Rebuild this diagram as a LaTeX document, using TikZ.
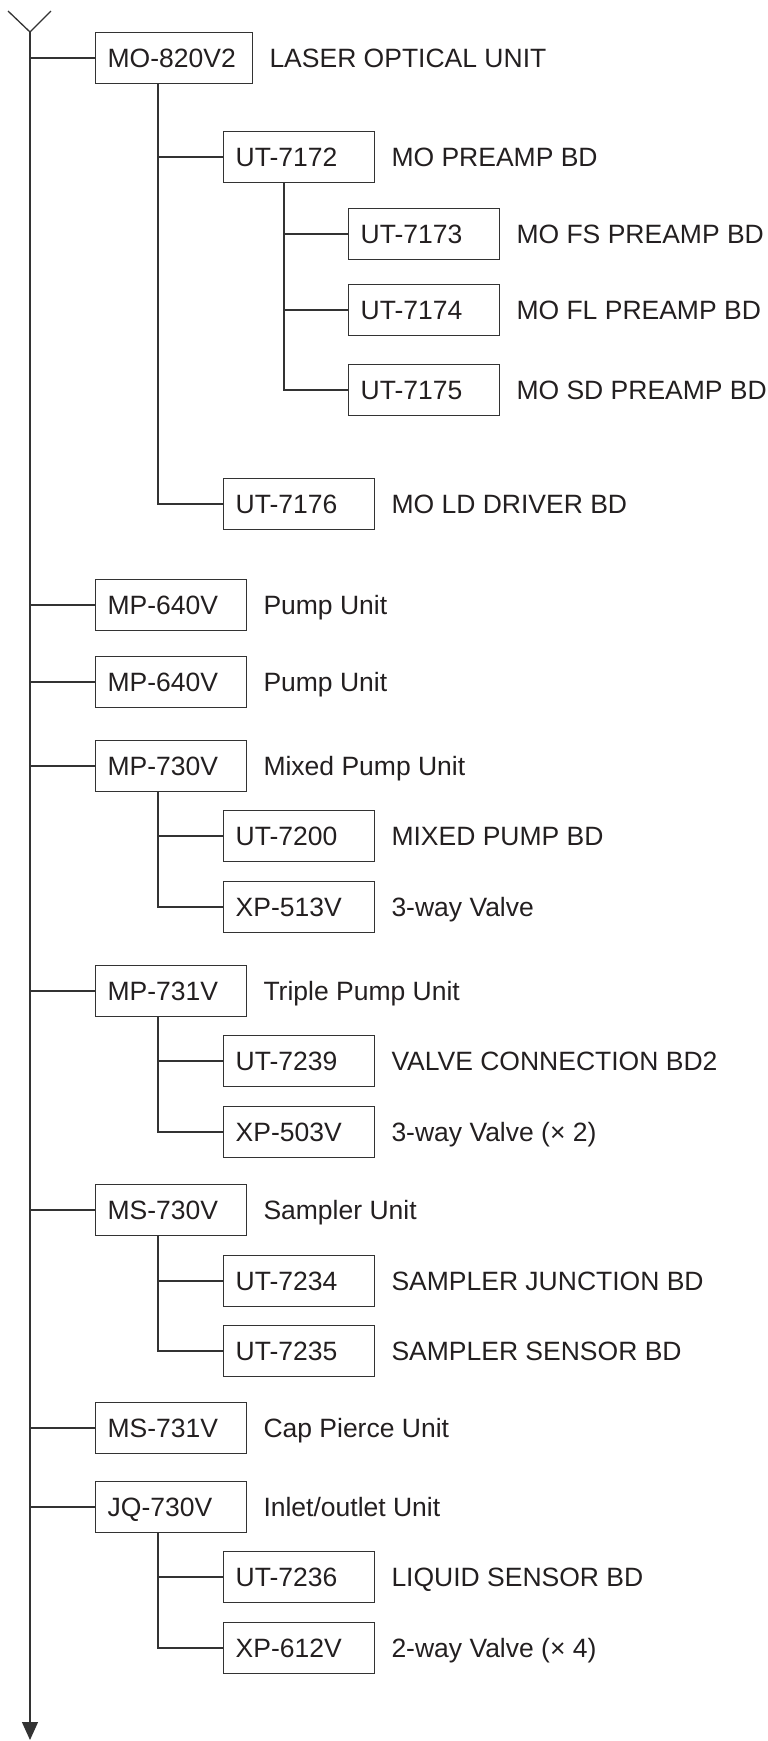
\documentclass[tikz,border=0pt]{standalone}
\usepackage{fontspec}
\setmainfont{Liberation Sans}
\usetikzlibrary{arrows.meta,positioning}
\definecolor{linec}{HTML}{333333}
\definecolor{textc}{HTML}{231F20}
\begin{document}
\begin{tikzpicture}[x=1pt,y=-1pt,
  every node/.style={font=\fontsize{26.5pt}{30pt}\selectfont, text=textc},
  unitbox/.style={draw=linec, line width=1.3pt, minimum height=51.5pt, text height=19pt, text depth=0pt, inner xsep=12pt, inner ysep=0pt, text width=127pt, align=left, anchor=west},
  lbl/.style={inner sep=0pt, text height=19pt, text depth=0pt, anchor=west},
  conn/.style={draw=linec, line width=1.3pt},
  node distance=16pt
]
\useasboundingbox (0,0) rectangle (768,1741);

\coordinate (vl) at (8,11);
\coordinate (vr) at (51,11);
\coordinate (vtx) at (30,32);
\coordinate (bot) at (30,1740);
\coordinate (trunk) at (30,0);

% level 1 boxes
\node[unitbox, text width=133pt] (b1) at (95,58) {MO-820V2};
\node[unitbox] (b2) at (95,605) {MP-640V};
\node[unitbox] (b3) at (95,682) {MP-640V};
\node[unitbox] (b4) at (95,766) {MP-730V};
\node[unitbox] (b5) at (95,991) {MP-731V};
\node[unitbox] (b6) at (95,1210) {MS-730V};
\node[unitbox] (b7) at (95,1428) {MS-731V};
\node[unitbox] (b8) at (95,1507) {JQ-730V};

\node[lbl, right=of b1] (l1) {LASER OPTICAL UNIT};
\node[lbl, right=of b2] (l2) {Pump Unit};
\node[lbl, right=of b3] (l3) {Pump Unit};
\node[lbl, right=of b4] (l4) {Mixed Pump Unit};
\node[lbl, right=of b5] (l5) {Triple Pump Unit};
\node[lbl, right=of b6] (l6) {Sampler Unit};
\node[lbl, right=of b7] (l7) {Cap Pierce Unit};
\node[lbl, right=of b8] (l8) {Inlet/outlet Unit};

% level 2 boxes
\node[unitbox] (c11) at (223,157) {UT-7172};
\node[unitbox] (c12) at (223,504) {UT-7176};
\node[unitbox] (c41) at (223,836) {UT-7200};
\node[unitbox] (c42) at (223,907) {XP-513V};
\node[unitbox] (c51) at (223,1061) {UT-7239};
\node[unitbox] (c52) at (223,1132) {XP-503V};
\node[unitbox] (c61) at (223,1281) {UT-7234};
\node[unitbox] (c62) at (223,1351) {UT-7235};
\node[unitbox] (c81) at (223,1577) {UT-7236};
\node[unitbox] (c82) at (223,1648) {XP-612V};

\node[lbl, right=of c11] (m11) {MO PREAMP BD};
\node[lbl, right=of c12] (m12) {MO LD DRIVER BD};
\node[lbl, right=of c41] (m41) {MIXED PUMP BD};
\node[lbl, right=of c42] (m42) {3-way Valve};
\node[lbl, right=of c51] (m51) {VALVE CONNECTION BD2};
\node[lbl, right=of c52] (m52) {3-way Valve (× 2)};
\node[lbl, right=of c61] (m61) {SAMPLER JUNCTION BD};
\node[lbl, right=of c62] (m62) {SAMPLER SENSOR BD};
\node[lbl, right=of c81] (m81) {LIQUID SENSOR BD};
\node[lbl, right=of c82] (m82) {2-way Valve (× 4)};

% level 3 boxes
\node[unitbox] (d1) at (348,234) {UT-7173};
\node[unitbox] (d2) at (348,310) {UT-7174};
\node[unitbox] (d3) at (348,390) {UT-7175};

\node[lbl, right=of d1] (n1) {MO FS PREAMP BD};
\node[lbl, right=of d2] (n2) {MO FL PREAMP BD};
\node[lbl, right=of d3] (n3) {MO SD PREAMP BD};

% trunk
\draw[conn] (vl) -- (vtx) -- (vr);
\draw[conn, -{Triangle[width=16pt,length=18pt]}] (vtx) -- (bot);
\foreach \b in {b1,b2,b3,b4,b5,b6,b7,b8}
  \draw[conn] (\b.west -| trunk) -- (\b.west);

% sub-branches
\coordinate (s1) at ([xshift=63pt]b1.south west);
\coordinate (s4) at ([xshift=63pt]b4.south west);
\coordinate (s5) at ([xshift=63pt]b5.south west);
\coordinate (s6) at ([xshift=63pt]b6.south west);
\coordinate (s8) at ([xshift=63pt]b8.south west);
\coordinate (t1) at ([xshift=61pt]c11.south west);

\draw[conn] (s1) |- (c12.west);
\draw[conn] (c11.west -| s1) -- (c11.west);
\draw[conn] (s4) |- (c42.west);
\draw[conn] (c41.west -| s4) -- (c41.west);
\draw[conn] (s5) |- (c52.west);
\draw[conn] (c51.west -| s5) -- (c51.west);
\draw[conn] (s6) |- (c62.west);
\draw[conn] (c61.west -| s6) -- (c61.west);
\draw[conn] (s8) |- (c82.west);
\draw[conn] (c81.west -| s8) -- (c81.west);
\draw[conn] (t1) |- (d3.west);
\draw[conn] (d1.west -| t1) -- (d1.west);
\draw[conn] (d2.west -| t1) -- (d2.west);
\end{tikzpicture}
\end{document}
